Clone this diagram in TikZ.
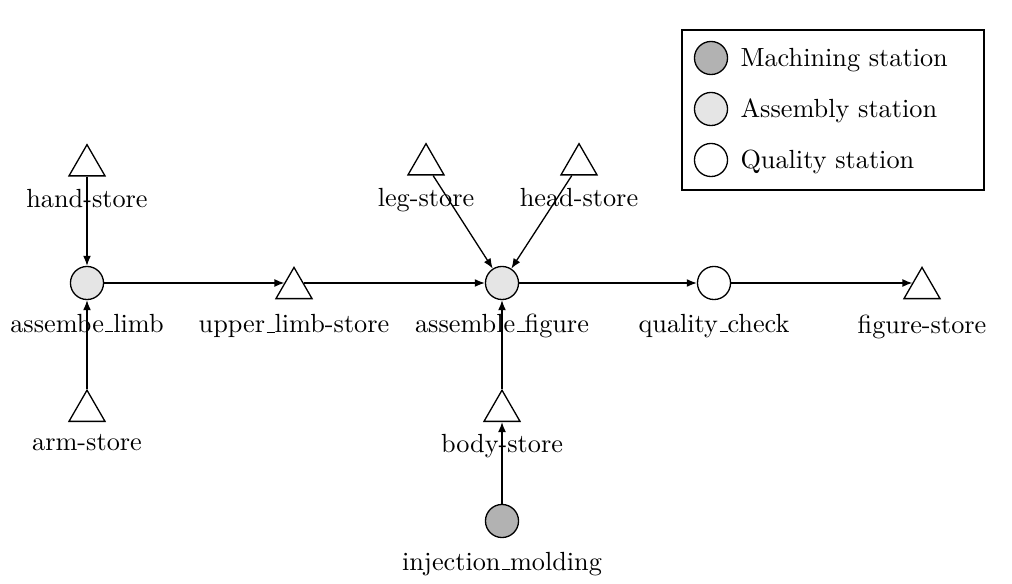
\documentclass[tikz,border=0pt]{standalone}
\usetikzlibrary{shapes.geometric,arrows.meta}
\newcommand\lowbar{\leavevmode\kern.06em\vbox{\hrule width.3em}}
\begin{document}
\begin{tikzpicture}[x=0.38095pt,y=-0.38095pt,
  station/.style={circle,draw,line width=0.5pt,minimum size=12.6pt,inner sep=0pt},
  machining/.style={station,fill=gray!60},
  assembly/.style={station,fill=gray!20},
  quality/.style={station,fill=white},
  store/.style={regular polygon,regular polygon sides=3,draw,line width=0.5pt,minimum size=15.85pt,inner sep=0pt},
  lbl/.style={label={[label distance=1.7pt]below:#1}},
  slbl/.style={label={[label distance=1.15pt]below:#1}},
  arr/.style={-{Latex[length=3.8pt,width=3pt]},line width=0.5pt},
  legendbox/.style={draw,line width=0.5pt,minimum width=115.05pt,minimum height=60.95pt,inner sep=0pt},
  legendtext/.style={anchor=west,inner sep=0pt}]
\useasboundingbox (0,0) rectangle (1012,584);
% stores
\node[store,slbl={hand-store}] (hand) at (87,165.5) {};
\node[store,slbl={arm-store}] (arm) at (87,411) {};
\node[store,label={[label distance=2.3pt]below:upper\lowbar limb-store}] (upper) at (294,288.2) {};
\node[store,slbl={leg-store}] (leg) at (426,164.5) {};
\node[store,slbl={head-store}] (head) at (579,164.5) {};
\node[store,slbl={body-store}] (body) at (502,411) {};
\node[store,label={[label distance=2.3pt]below:figure-store}] (figure) at (922,288.2) {};
% stations
\node[assembly,lbl={assembe\lowbar limb}] (alimb) at (87,283) {};
\node[assembly,lbl={assemble\lowbar figure}] (afig) at (502,283) {};
\node[quality,lbl={quality\lowbar check}] (qc) at (714,283) {};
\node[machining,lbl={injection\lowbar molding}] (inj) at (502,521) {};
% connectors
\draw[arr] (hand) -- (alimb);
\draw[arr] (arm) -- (alimb);
\draw[arr] (alimb) -- (alimb -| upper.150);
\draw[arr] (upper.30 |- afig) -- (afig);
\draw[arr] (leg) -- (afig);
\draw[arr] (head) -- (afig);
\draw[arr] (body) -- (afig);
\draw[arr] (inj) -- (body);
\draw[arr] (afig) -- (qc);
\draw[arr] (qc) -- (qc -| figure.150);
% legend
\node[legendbox] (legend) at (833,110) {};
\node[machining] (lm) at (711,58) {};
\node[assembly] (la) at (711,109) {};
\node[quality] (lq) at (711,160) {};
\node[legendtext] (lmt) at (740,60) {Machining station};
\node[legendtext] (lat) at (740,111) {Assembly station};
\node[legendtext] (lqt) at (740,162) {Quality station};
\end{tikzpicture}
\end{document}
